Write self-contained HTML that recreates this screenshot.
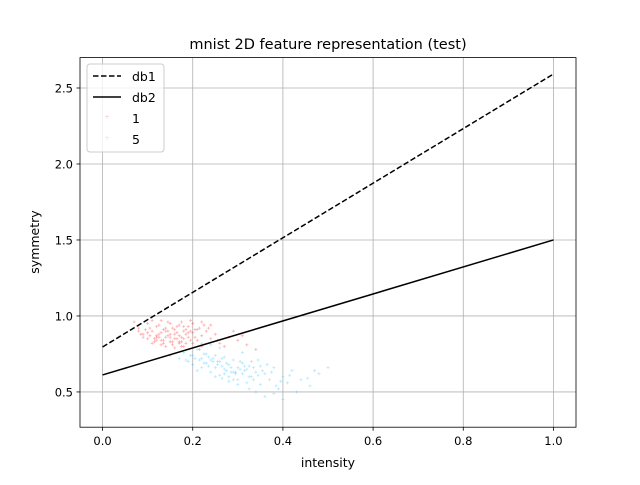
<!DOCTYPE html>
<html><head><meta charset="utf-8"><style>
body{margin:0;background:#fff}
text{font-family:"DejaVu Sans","Liberation Sans",sans-serif}
</style></head><body>
<svg id="chart" width="640" height="480" xmlns="http://www.w3.org/2000/svg">
<rect width="640" height="480" fill="#fff"/>
<g id="grid"></g>
<g id="pts"></g>
<g id="lines"></g>
<rect x="80" y="57.6" width="496" height="369.6" fill="none" stroke="#000" stroke-width="0.8"/>
<g id="ticks"></g>
<text x="328" y="49" font-size="14.5" text-anchor="middle">mnist 2D feature representation (test)</text>
<text x="328" y="467" font-size="12.5" text-anchor="middle">intensity</text>
<text transform="translate(39,242) rotate(-90)" font-size="12.5" text-anchor="middle">symmetry</text>
<g>
<rect x="87" y="64" width="77" height="88" rx="3" fill="#fff" fill-opacity="0.8" stroke="#ccc"/>
<line x1="93" y1="76" x2="121" y2="76" stroke="#000" stroke-width="1.5" stroke-dasharray="5.5,2.5"/>
<text x="132" y="81" font-size="12.5">db1</text>
<line x1="93" y1="97" x2="121" y2="97" stroke="#000" stroke-width="1.5"/>
<text x="132" y="102" font-size="12.5">db2</text>
<text x="107" y="119" font-size="6" fill="#fbb" text-anchor="middle">+</text>
<text x="132" y="123" font-size="12.5">1</text>
<text x="107" y="140" font-size="6" fill="#bef" text-anchor="middle">+</text>
<text x="132" y="144" font-size="12.5">5</text>
</g>
</svg>
<script>
const xTicks=[0.0,0.2,0.4,0.6,0.8,1.0];
const yTicks=[0.5,1.0,1.5,2.0,2.5];
const db1=[0.796,2.592];
const db2=[0.612,1.5];
const redX=[0.07,0.08,0.09,0.10,0.10,0.11,0.11,0.12,0.12,0.12,0.13,0.13,0.13,0.14,0.14,0.14,0.15,0.15,0.15,0.16,0.16,0.16,0.17,0.17,0.17,0.18,0.18,0.18,0.19,0.19,0.20,0.20,0.21,0.21,0.22,0.22,0.23,0.24,0.25,0.26,0.28,0.30,0.32,0.34,0.10,0.12,0.14,0.16,0.18,0.20,0.11,0.13,0.15,0.17,0.19,0.09,0.24,0.27,0.08,0.22,
0.105,0.115,0.125,0.135,0.145,0.155,0.165,0.175,0.185,0.195,0.105,0.125,0.145,0.165,0.185,0.205,0.115,0.135,0.155,0.175,0.195,0.215,0.125,0.145,0.165,0.185,0.135,0.155,0.175,0.095,0.085,0.235,0.255,0.225,0.29,0.31,0.215,0.205,0.195,0.175];
const redY=[0.96,0.92,0.88,0.95,0.85,0.90,0.82,0.93,0.87,0.84,0.97,0.89,0.81,0.92,0.86,0.80,0.95,0.88,0.83,0.91,0.85,0.79,0.94,0.87,0.82,0.90,0.85,0.80,0.93,0.86,0.89,0.82,0.91,0.84,0.87,0.80,0.90,0.85,0.88,0.82,0.86,0.84,0.81,0.78,0.89,0.86,0.90,0.88,0.93,0.95,0.97,0.84,0.86,0.83,0.89,0.86,0.94,0.80,0.90,0.96,
0.87,0.85,0.88,0.84,0.90,0.83,0.89,0.86,0.88,0.84,0.92,0.94,0.96,0.93,0.91,0.86,0.83,0.82,0.81,0.80,0.90,0.92,0.86,0.87,0.85,0.82,0.91,0.92,0.96,0.91,0.88,0.92,0.84,0.94,0.90,0.87,0.78,0.91,0.97,0.83];
const blueX=[0.15,0.17,0.18,0.19,0.20,0.20,0.21,0.22,0.22,0.23,0.23,0.24,0.24,0.25,0.25,0.26,0.26,0.27,0.27,0.28,0.28,0.29,0.29,0.30,0.30,0.31,0.31,0.32,0.32,0.33,0.33,0.34,0.35,0.35,0.36,0.37,0.38,0.39,0.40,0.41,0.42,0.43,0.44,0.46,0.48,0.50,0.36,0.38,0.40,0.34,0.30,0.28,0.26,0.24,0.22,0.21,0.25,0.27,0.29,0.31,
0.215,0.225,0.235,0.245,0.255,0.265,0.275,0.285,0.295,0.305,0.315,0.325,0.335,0.345,0.235,0.255,0.275,0.295,0.315,0.335,0.355,0.225,0.245,0.265,0.285,0.305,0.325,0.205,0.195,0.185,0.375,0.395,0.415,0.365,0.345,0.455,0.47,0.385,0.325,0.265];
const blueY=[0.74,0.72,0.76,0.70,0.74,0.68,0.78,0.72,0.66,0.75,0.69,0.71,0.63,0.74,0.66,0.70,0.61,0.73,0.65,0.68,0.60,0.71,0.63,0.66,0.58,0.69,0.62,0.65,0.56,0.70,0.60,0.63,0.67,0.55,0.62,0.58,0.66,0.52,0.60,0.56,0.64,0.50,0.58,0.54,0.62,0.66,0.47,0.49,0.45,0.50,0.55,0.57,0.79,0.81,0.82,0.64,0.60,0.62,0.58,0.76,
0.71,0.69,0.67,0.72,0.68,0.67,0.64,0.66,0.63,0.65,0.64,0.60,0.66,0.61,0.73,0.70,0.69,0.62,0.67,0.58,0.64,0.75,0.70,0.72,0.63,0.70,0.67,0.72,0.74,0.71,0.63,0.57,0.61,0.68,0.71,0.59,0.64,0.54,0.52,0.59];
const X=v=>80+(v+0.05)/1.1*496;
const Y=v=>427.2-(v-0.268)/(2.7-0.268)*369.6;
const NS='http://www.w3.org/2000/svg';
function mk(p,t,a){const e=document.createElementNS(NS,t);for(const k in a)e.setAttribute(k,a[k]);p.appendChild(e);return e;}
const grid=document.getElementById('grid'),ticks=document.getElementById('ticks');
xTicks.forEach(v=>{
 const g=mk(grid,'line',{x1:X(v),x2:X(v),y1:57.6,y2:427.2,stroke:'#b0b0b0','stroke-width':0.8});
 
 
 mk(ticks,'line',{x1:X(v),x2:X(v),y1:427.2,y2:430.7,stroke:'#000','stroke-width':0.8});
 const t=mk(ticks,'text',{x:X(v),y:445,'font-size':11.5,'text-anchor':'middle'});t.textContent=v.toFixed(1);
 
 
});
yTicks.forEach(v=>{
 const g=mk(grid,'line',{x1:80,x2:576,y1:Y(v),y2:Y(v),stroke:'#b0b0b0','stroke-width':0.8});
 
 
 mk(ticks,'line',{x1:76.5,x2:80,y1:Y(v),y2:Y(v),stroke:'#000','stroke-width':0.8});
 const t=mk(ticks,'text',{x:73,y:Y(v)+4.5,'font-size':11.5,'text-anchor':'end'});t.textContent=v.toFixed(1);
 
 
});
const pts=document.getElementById('pts');
function scatter(xs,ys,col,name){xs.forEach((x,i)=>{
 const cx=X(x),cy=Y(ys[i]);
 const p=mk(pts,'path',{d:`M${cx-1.5},${cy}h3M${cx},${cy-1.5}v3`,stroke:col,'stroke-width':0.8,'stroke-opacity':0.35});
 
 
});}
scatter(redX,redY,'#ff2020','point-digit-1');
scatter(blueX,blueY,'#30c0ff','point-digit-5');
const lines=document.getElementById('lines');
const l1=mk(lines,'line',{x1:X(0),y1:Y(db1[0]),x2:X(1),y2:Y(db1[1]),stroke:'#000','stroke-width':1.5,'stroke-dasharray':'5.5,2.5'});


const l2=mk(lines,'line',{x1:X(0),y1:Y(db2[0]),x2:X(1),y2:Y(db2[1]),stroke:'#000','stroke-width':1.5});


</script>
</body></html>
